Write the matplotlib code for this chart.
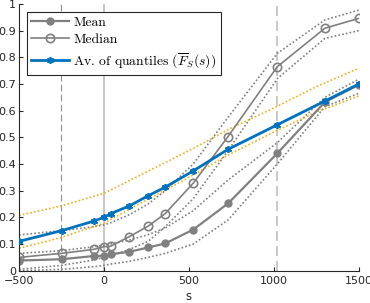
import numpy as np
import matplotlib
matplotlib.use("Agg")
import matplotlib.pyplot as plt

plt.rcParams['mathtext.fontset'] = 'cm'

# points in s where the curves are evaluated
s = [-500, -250, -60, 0, 40, 150, 260, 360, 525, 730, 1020, 1300, 1500]

mean = [0.038, 0.043, 0.055, 0.056, 0.062, 0.071, 0.087, 0.102, 0.154, 0.252, 0.44, 0.632, 0.697]
median = [0.05, 0.065, 0.08, 0.09, 0.092, 0.128, 0.167, 0.214, 0.328, 0.503, 0.765, 0.909, 0.946]
avq = [0.11, 0.15, 0.186, 0.20, 0.214, 0.243, 0.281, 0.313, 0.374, 0.455, 0.547, 0.636, 0.70]

# dotted bands around median and mean
med_hi = [0.134, 0.15, 0.165, 0.172, 0.18, 0.21, 0.25, 0.30, 0.40, 0.575, 0.815, 0.94, 0.977]
med_lo = [0.005, 0.02, 0.04, 0.05, 0.055, 0.08, 0.11, 0.165, 0.27, 0.45, 0.72, 0.871, 0.90]
mean_hi = [0.065, 0.075, 0.09, 0.095, 0.10, 0.115, 0.135, 0.16, 0.225, 0.34, 0.48, 0.65, 0.718]
mean_lo = [0.0, 0.005, 0.015, 0.02, 0.025, 0.035, 0.05, 0.065, 0.10, 0.19, 0.40, 0.615, 0.665]

# orange band around the average of quantiles
s_band = [-500, -250, 0, 250, 500, 750, 1000, 1250, 1500]
band_hi = [0.207, 0.243, 0.29, 0.37, 0.45, 0.535, 0.61, 0.69, 0.759]
band_lo = [0.084, 0.125, 0.178, 0.265, 0.35, 0.44, 0.52, 0.595, 0.655]

vlines_dash = [-255, 1018]

gray = '#808080'
blue = '#0072BD'
orange = '#EDB120'

fig = plt.figure(figsize=(3.70, 3.03), dpi=100)
ax = fig.add_axes([0.0514, 0.1066, 0.9186, 0.8804])

ax.axvline(0, color='#c8c8c8', lw=1.5, zorder=0)
ax.axvline(vlines_dash[0], color='#909090', lw=0.8, ls=(0, (6, 3)), zorder=0)
ax.axvline(vlines_dash[1], color='#c0c0c0', lw=1.2, ls=(0, (6, 3)), zorder=0)

dot = (0, (1, 1.3))
for d in [med_hi, med_lo, mean_hi, mean_lo]:
    ax.plot(s, d, color=gray, lw=1.2, ls=dot, zorder=1)
ax.plot(s_band, band_hi, color=orange, lw=1.2, ls=dot, zorder=1)
ax.plot(s_band, band_lo, color=orange, lw=1.2, ls=dot, zorder=1)

ax.plot(s, mean, color=gray, lw=1.6, marker='o', ms=5, mfc=gray, mec=gray, zorder=2, label='Mean')
ax.plot(s, median, color=gray, lw=1.2, marker='o', ms=6, mfc='none', mec=gray, mew=1.2, zorder=2, label='Median')
ax.plot(s, avq, color=blue, lw=2.0, marker=(6, 2, 0), ms=5, mec=blue, mew=1.2, zorder=3,
        label=r'Av. of quantiles $(\overline{F}_S(s))$')

ax.set_xlim(-500, 1500)
ax.set_ylim(0, 1)
ax.set_xticks([-500, 0, 500, 1000, 1500])
ax.set_yticks(np.arange(0, 1.01, 0.1))
ax.set_yticklabels(['0', '0.1', '0.2', '0.3', '0.4', '0.5', '0.6', '0.7', '0.8', '0.9', '1'])
ax.tick_params(direction='in', labelsize=8, length=3, colors='#262626')
ax.tick_params(axis='x', pad=4)
ax.tick_params(axis='y', pad=2)
ax.spines['top'].set_visible(False)
ax.spines['right'].set_visible(False)
for sp in ['left', 'bottom']:
    ax.spines[sp].set_color('#262626')
    ax.spines[sp].set_linewidth(0.8)
ax.set_xlabel('s', fontsize=8.5, labelpad=3, color='#262626')

leg = ax.legend(loc='upper left', bbox_to_anchor=(0.0235, 0.97), prop={'family': 'cmr10', 'size': 9.8},
                frameon=True, fancybox=False, edgecolor='#262626', framealpha=1,
                handlelength=2.8, handletextpad=0.3, borderpad=0.3, labelspacing=0.38,
                borderaxespad=0)
leg.get_frame().set_linewidth(0.8)

fig.savefig('out.png', dpi=100)
